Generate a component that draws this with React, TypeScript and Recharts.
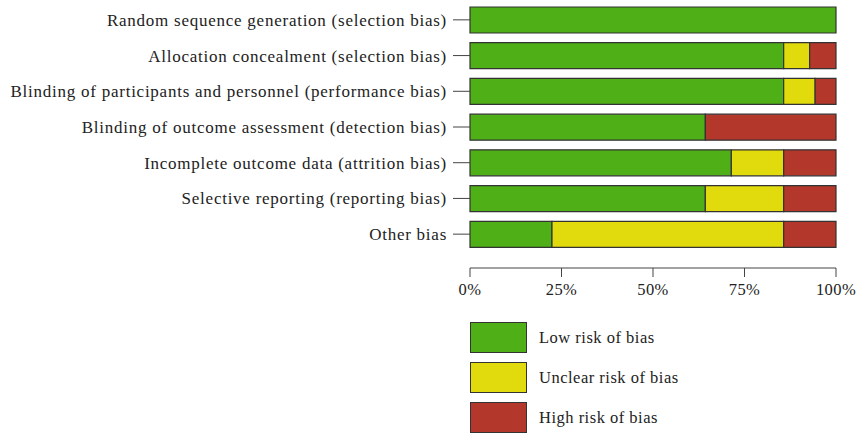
import { BarChart, Bar, XAxis, YAxis } from "recharts";

const domains = [
  "Random sequence generation (selection bias)",
  "Allocation concealment (selection bias)",
  "Blinding of participants and personnel (performance bias)",
  "Blinding of outcome assessment (detection bias)",
  "Incomplete outcome data (attrition bias)",
  "Selective reporting (reporting bias)",
  "Other bias",
];
const lowRisk = [100, 85.7, 85.7, 64.3, 71.4, 64.3, 22.4];
const unclearRisk = [0, 7.1, 8.6, 0, 14.3, 21.4, 63.3];
const highRisk = [0, 7.2, 5.7, 35.7, 14.3, 14.3, 14.3];
const xTicks = [0, 25, 50, 75, 100];

const GREEN = "#4faf17";
const YELLOW = "#e1da0c";
const RED = "#b3372a";
const FONT = "'Liberation Serif', 'DejaVu Serif', serif";

const data = domains.map((name, i) => ({
  name,
  low: lowRisk[i],
  unclear: unclearRisk[i],
  high: highRisk[i],
}));

const legend = [
  { label: "Low risk of bias", color: GREEN },
  { label: "Unclear risk of bias", color: YELLOW },
  { label: "High risk of bias", color: RED },
];

export default function App() {
  return (
    <div style={{ position: "absolute", left: 0, top: 0, width: 865, height: 434, background: "#fff", fontFamily: FONT }}>
      <BarChart
        width={865}
        height={304}
        data={data}
        layout="vertical"
        margin={{ top: 2, right: 29, left: 0, bottom: 0 }}
        barCategoryGap={5}
      >
        <XAxis
          type="number"
          domain={[0, 100]}
          ticks={xTicks}
          tickFormatter={(v) => `${v}%`}
          tick={{ fill: "#222", fontSize: 16.5, fontFamily: FONT, letterSpacing: 0.4 }}
          stroke="#444"
          tickSize={9}
          tickMargin={6}
          height={36}
          interval={0}
        />
        <YAxis
          type="category"
          dataKey="name"
          width={470}
          axisLine={false}
          tickSize={17}
          tickMargin={6}
          stroke="#444"
          tick={{ fill: "#222", fontSize: 17, fontFamily: FONT, letterSpacing: 0.75 }}
          padding={{ top: 0, bottom: 16 }}
        />
        <Bar dataKey="low" stackId="a" fill={GREEN} stroke="#333" strokeWidth={1.2} isAnimationActive={false} />
        <Bar dataKey="unclear" stackId="a" fill={YELLOW} stroke="#333" strokeWidth={1.2} isAnimationActive={false} />
        <Bar dataKey="high" stackId="a" fill={RED} stroke="#333" strokeWidth={1.2} isAnimationActive={false} />
      </BarChart>
      {legend.map((l, i) => (
        <div key={l.label} style={{ position: "absolute", left: 470, top: 322 + i * 40, display: "flex", alignItems: "center" }}>
          <div style={{ width: 55, height: 29, background: l.color, border: "1px solid #333" }} />
          <span style={{ marginLeft: 12, fontSize: 16.5, letterSpacing: 0.5, color: "#222" }}>{l.label}</span>
        </div>
      ))}
    </div>
  );
}
